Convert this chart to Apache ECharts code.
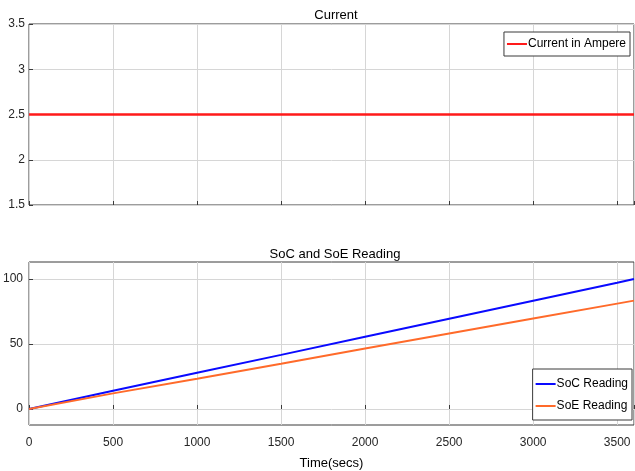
<!DOCTYPE html>
<html>
<head>
<meta charset="utf-8">
<script src="https://cdn.jsdelivr.net/npm/echarts@6/dist/echarts.min.js"></script>
<style>
  html, body { margin: 0; padding: 0; background: #fff; }
  #chart { width: 635px; height: 471px; }
</style>
</head>
<body>
<div id="chart"></div>
<script>
// Sample times in seconds
const timeSecs = [0, 500, 1000, 1500, 2000, 2500, 3000, 3500, 3600];
// Constant charging current (A)
const currentAmps = [2.5, 2.5, 2.5, 2.5, 2.5, 2.5, 2.5, 2.5, 2.5];
// State of charge / state of energy readings (%)
const socReading = [0, 14.0, 27.9, 41.6, 55.5, 69.3, 83.2, 97.1, 100];
const soeReading = [0, 12.0, 23.3, 34.8, 46.5, 58.0, 69.5, 81.0, 83.3];
// Tick values
const xTicks = [0, 500, 1000, 1500, 2000, 2500, 3000, 3500];
const socTicks = [0, 50, 100];

const FONT = '"Liberation Sans", Arial, sans-serif';
const TXT = '#262626';
const GRIDC = '#d6d6d6';
const FRAME = '#3a3a3a';

const pairs = (xs, ys) => xs.map((x, i) => [x, ys[i]]);

const chart = echarts.init(document.getElementById('chart'), null, { renderer: 'canvas' });

const xCommon = {
  type: 'value', min: 0, max: 3600, interval: 500,
  axisLine: { show: false },
  axisTick: { show: true, inside: true, length: 4, lineStyle: { color: FRAME } },
  splitLine: { show: true, lineStyle: { color: GRIDC, width: 1 } }
};

chart.setOption({
  animation: false,
  backgroundColor: '#fff',
  title: [
    { text: 'Current', left: 331, top: 4, textAlign: 'center',
      textStyle: { fontFamily: FONT, fontSize: 13, fontWeight: 'normal', color: '#000' } },
    { text: 'SoC and SoE Reading', left: 330, top: 243, textAlign: 'center',
      textStyle: { fontFamily: FONT, fontSize: 13, fontWeight: 'normal', color: '#000' } }
  ],
  grid: [
    { left: 29, top: 24, right: 1, height: 181, show: true, borderColor: FRAME, borderWidth: 1, backgroundColor: '#fff' },
    { left: 29, top: 262, right: 1, height: 163, show: true, borderColor: FRAME, borderWidth: 1, backgroundColor: '#fff' }
  ],
  xAxis: [
    Object.assign({}, xCommon, { gridIndex: 0, axisLabel: { show: false } }),
    Object.assign({}, xCommon, {
      gridIndex: 1,
      axisLabel: { show: true, margin: 12, fontFamily: FONT, fontSize: 12, color: TXT,
        customValues: xTicks, formatter: v => String(v) },
      name: 'Time(secs)', nameLocation: 'middle', nameGap: 32,
      nameTextStyle: { fontFamily: FONT, fontSize: 13, color: '#000' }
    })
  ],
  yAxis: [
    {
      type: 'value', gridIndex: 0, min: 1.5, max: 3.5, interval: 0.5,
      axisLine: { show: false },
      axisTick: { show: true, inside: true, length: 4, lineStyle: { color: FRAME } },
      axisLabel: { margin: 4, fontFamily: FONT, fontSize: 12, color: TXT,
        formatter: v => String(v) },
      splitLine: { show: true, lineStyle: { color: GRIDC, width: 1 } }
    },
    {
      type: 'value', gridIndex: 1, min: -12.3, max: 113,
      axisLine: { show: false },
      axisTick: { show: true, inside: true, length: 4, lineStyle: { color: FRAME }, customValues: socTicks },
      axisLabel: { margin: 6, fontFamily: FONT, fontSize: 12, color: TXT, customValues: socTicks },
      splitLine: { show: true, lineStyle: { color: GRIDC, width: 1 } }
    }
  ],
  legend: [
    {
      data: ['Current in Ampere'], right: 5, top: 32,
      orient: 'vertical', backgroundColor: '#fff',
      borderColor: FRAME, borderWidth: 1, borderRadius: 0,
      padding: [6, 4, 6, 3], itemGap: 4,
      icon: 'rect', itemWidth: 20, itemHeight: 2, selectedMode: false,
      textStyle: { fontFamily: FONT, fontSize: 12, color: '#000', padding: [0, 0, 0, -4] }
    },
    {
      data: ['SoC Reading', 'SoE Reading'], right: 3, top: 369,
      orient: 'vertical', backgroundColor: '#fff',
      borderColor: FRAME, borderWidth: 1, borderRadius: 0,
      padding: [9, 4, 8, 3], itemGap: 10,
      icon: 'rect', itemWidth: 20, itemHeight: 2, selectedMode: false,
      textStyle: { fontFamily: FONT, fontSize: 12, color: '#000', padding: [0, 0, 0, -4] }
    }
  ],
  series: [
    {
      name: 'Current in Ampere', type: 'line', xAxisIndex: 0, yAxisIndex: 0,
      data: pairs(timeSecs, currentAmps), showSymbol: false, symbol: 'none',
      lineStyle: { color: '#ff1a1a', width: 2.5 }, itemStyle: { color: '#ff1a1a' }
    },
    {
      name: 'SoC Reading', type: 'line', xAxisIndex: 1, yAxisIndex: 1,
      data: pairs(timeSecs, socReading), showSymbol: false, symbol: 'none',
      lineStyle: { color: '#0a0aff', width: 2 }, itemStyle: { color: '#0a0aff' }
    },
    {
      name: 'SoE Reading', type: 'line', xAxisIndex: 1, yAxisIndex: 1,
      data: pairs(timeSecs, soeReading), showSymbol: false, symbol: 'none',
      lineStyle: { color: '#ff6a2a', width: 2 }, itemStyle: { color: '#ff6a2a' }
    }
  ]
});
</script>
</body>
</html>
